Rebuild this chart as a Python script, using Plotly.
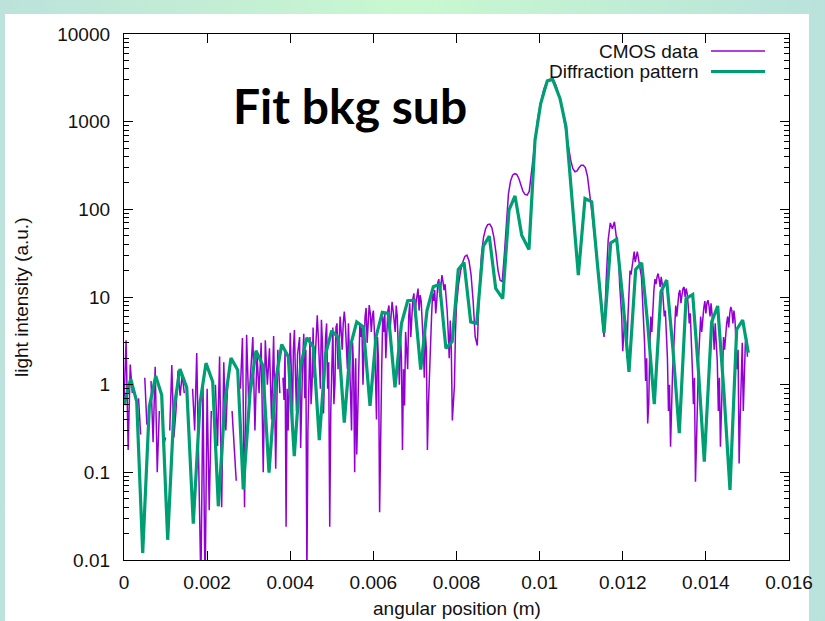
import base64
import plotly.graph_objects as go

# ---------------- data ----------------
# Diffraction pattern (fit), vertices
fit_x_mm = [0.000, 0.161, 0.306, 0.450, 0.609, 0.763, 0.907, 1.051, 1.203, 1.347,
            1.509, 1.667, 1.829, 1.973, 2.134, 2.269, 2.430, 2.574, 2.736, 2.870,
            3.032, 3.176, 3.337, 3.489, 3.650, 3.794, 3.953, 4.097, 4.247, 4.396,
            4.555, 4.699, 4.848, 4.997, 5.156, 5.300, 5.450, 5.599, 5.758, 5.919,
            6.063, 6.215, 6.359, 6.520, 6.677, 6.826, 6.985, 7.139, 7.290, 7.442,
            7.594, 7.745, 7.897, 8.043, 8.181, 8.342, 8.486, 8.645, 8.789, 8.943,
            9.112, 9.263, 9.408, 9.569, 9.744, 9.889, 10.026, 10.185, 10.314, 10.490,
            10.635, 10.786, 10.931, 11.092, 11.253, 11.397, 11.549, 11.710, 11.854, 12.006,
            12.150, 12.311, 12.456, 12.607, 12.759, 12.920, 13.057, 13.209, 13.360, 13.522,
            13.683, 13.823, 13.962, 14.140, 14.284, 14.436, 14.580, 14.741, 14.886, 15.021]
fit_y = [0.585, 1.16, 0.64, 0.012, 0.56, 1.26, 0.76, 0.017, 0.54, 1.51,
         0.93, 0.026, 0.62, 1.76, 1.08, 0.041, 0.65, 2.01, 1.47, 0.064,
         0.80, 2.44, 1.67, 0.099, 1.12, 2.88, 2.08, 0.153, 1.6, 3.43,
         2.7, 0.233, 2.2, 4.12, 3.46, 0.37, 2.8, 5.2, 4.57, 0.575,
         3.5, 6.67, 6.5, 0.93, 5.0, 9.06, 9.2, 1.49, 7.0, 13.1,
         14.0, 2.6, 3.1, 20.6, 24.8, 5.2, 5.0, 38, 49.5, 12.5,
         9.6, 98, 142, 50.8, 34.9, 615, 1610, 2917, 3027, 1840,
         873, 127, 17.8, 133, 122, 22, 3.9, 41.5, 45.7, 9,
         1.4, 20.6, 24.5, 4.5, 0.6, 11.5, 15.6, 2.5, 0.28, 9.6,
         10.7, 1.4, 0.132, 5.2, 7.9, 0.8, 0.063, 4.27, 5.45, 2.31]

# CMOS data, background subtracted (None = non-positive value, not drawn on log scale)
# samples every 0.05 mm ...
cmos_step_m = 0.00005
cmos_y = [
    0.6, 3.2, 0.18, 1.7, 0.8, None, None, 0.7, 0.27, None,
    1.2, 0.35, None, 1.1, 0.22, 1.6, 0.1, 0.5, None, 0.2,
    0.25, None, 0.3, 1.67, 0.25, 0.5, 1.45, 0.75, 1.3, 0.8,
    None, 0.4, None, 0.9, 0.3, 2.3, 0.15, 0.005, 1.0, 0.004,
    0.9, 0.037, 0.5, None, 1.0, 0.2, 2.1, 0.04, 1.8, 0.3,
    1.2, None, 0.5, 0.17, 0.08, None, 0.9, 3.4, 0.04, 3.7,
    0.6, 1.5, 3.5, 0.3, 2.2, 0.8, 3.0, 0.1, 3.2, 1.0,
    2.6, 0.4, 3.6, 0.11, 2.5, 0.8, None, 0.67, 0.024, 0.3,
    3.9, 0.3, 4.2, 0.5, 3.0, 0.19, 2.0, 0.7, 0.006, 1.5,
    0.6, 4.5, 2.0, 6.2, 1.8, 5.5, 0.47, 3.5, 0.9, 0.024,
    2.5, 0.6, 4.5, 1.5, 6.0, 2.5, 6.8, 3.0, 5.0, 0.8,
    3.0, 0.1, 0.16, 1.5, 3.5, 1.0, 6.0, 3.0, 8.1, 4.0,
    7.0, 1.1, 3.5, 0.035, 1.5, 4.0, 2.0, 7.0, 4.0, 8.8,
    5.5, 8.0, 2.5, 4.0, 0.18, 0.58, 2.5, 6.0, 3.5, 9.5,
    6.0, 11.5, 7.0, 9.0, 3.0, 4.0, 0.18, 1.5, 6.0, 9.0,
    6.5, 14.6, 10.0, 17.8, 12.0, 10.0, 4.0, 5.4, 0.39, 0.98,
    8.0, 14, 20, 25, 29, 30, 26, 18, 9, 3.5,
    2.8, 12, 30, 48, 60, 67, 68, 62, 48, 32,
    20, 15.5, 15, 30, 80, 150, 210, 245, 255, 250,
    225, 190, 160, 148, 145, 160, 250, 450, 700, 1050,
    1450, 1900, 2350, 2700, 2950, 3050, 3050, 2900, 2550, 2100,
    1750, 1350, 1000, 720, 500, 360, 290, 268, 275, 300,
    318, 318, 300, 240, 160, 100, 60, 35, 22, 13,
    6, 3.5, 15, 45, 70, 60, 72, 45, 30, 10,
    2.4, 6, 2.0, 12, 18, 30, 25, 33, 22, 17,
    6, 1.1, 0.36, 2.5, 4, 12, 14, 18.5, 13, 14,
    6, 4, 0.5, 0.196, 1.5, 5, 6, 11, 8.5, 12.5,
    10, 11, 5, 3.5, 0.6, 0.078, 1.0, 3.5, 4, 7.5,
    6.5, 9.2, 6, 6.5, 2.5, 3, 0.5, 0.196, 1.2, 2.5,
    5, 4.5, 7.7, 5, 5.5, 1.5, 0.126, 1.5, 0.5, 3.0,
    2.08,
]
# ... plus in-between samples (half a step later) where the data is densest
cmos_mid1_first = 76
cmos_mid1_y = [
    1.2, 2.5, 0.9, 1.2, 1.5, 2.5, 1.3, 2.2, 3.5, 0.8,
    3.8, 2.5, 0.3, 3.5, 1.0, 1.2, 4.0, 3.5, 0.9, 3.0,
    1.5, 5.0, 1.8, 0.5, 4.5, 1.0, 5.0, 3.5, 4.0, 5.0,
    5.0, 1.5, 2.5, 0.3, 1.5, 2.0, 0.5, 5.0, 4.5, 3.0,
    7.5, 5.0, 6.5, 6.0, 4.0, 0.4, 1.8, 0.6, 6.0, 6.5,
    4.0, 8.0, 6.0, 7.0, 4.0, 6.0, 1.0, 2.0, 1.5, 4.0,
    1.5, 8.5, 6.0, 11, 8.5, 12.5, 10.5, 6.0, 1.2, 2.5,
    0.6, 4.0, 11.0, 12.0, 9.0, 16.0, 13.5, 15.0, 14.0, 7.0,
    2.0, 2.5, 0.6, 4.0,
]
cmos_mid2_first = 238
cmos_mid2_y = [
    14, 6, 4, 5, 6, 20, 22, 33, 30, 28,
    20, 10, 3, 2, 0.6, 6, 8, 16, 17, 16,
    17, 9, 7, 2, 1.0, 0.8, 2.5, 8, 9, 12,
    10.5, 13, 12.5, 8, 6.5, 1.5, 1.2, 0.3, 2.0, 6,
    6, 9, 8.5, 8, 8.5, 4.5, 5, 1.8, 1.2, 0.5,
    3.5, 4, 6, 6.5, 7, 7, 3, 2.5, 0.4, 3,
    1.0, 3.5,
]

cmos_pts = [(i * cmos_step_m, v) for i, v in enumerate(cmos_y)]
cmos_pts += [((cmos_mid1_first + k + 0.5) * cmos_step_m, v) for k, v in enumerate(cmos_mid1_y)]
cmos_pts += [((cmos_mid2_first + k + 0.5) * cmos_step_m, v) for k, v in enumerate(cmos_mid2_y)]
cmos_pts.sort(key=lambda p: p[0])
cmos_x = [p[0] for p in cmos_pts]
cmos_v = [p[1] for p in cmos_pts]
fit_x = [v * 1e-3 for v in fit_x_mm]

x_tickvals = [0, 0.002, 0.004, 0.006, 0.008, 0.010, 0.012, 0.014, 0.016]
x_ticktext = ["0", "0.002", "0.004", "0.006", "0.008", "0.01", "0.012", "0.014", "0.016"]
y_tickvals = [0.01, 0.1, 1, 10, 100, 1000, 10000]
y_ticktext = ["0.01", "0.1", "1", "10", "100", "1000", "10000"]
y_minor = [k * 10.0 ** e for e in range(-2, 4) for k in range(2, 10)]

PURPLE = "#9400D3"
GREEN = "#009E73"
FONT = "Liberation Sans, Arial, Helvetica, sans-serif"

# slide background gradient (teal at the sides, mint in the middle)
grad_svg = (
    '<svg xmlns="http://www.w3.org/2000/svg" width="825" height="621">'
    '<defs><linearGradient id="g" x1="0" y1="0" x2="1" y2="0">'
    '<stop offset="0" stop-color="#bce2db"/>'
    '<stop offset="0.5" stop-color="#c9f8cf"/>'
    '<stop offset="1" stop-color="#b9e2dc"/>'
    '</linearGradient></defs>'
    '<rect width="825" height="621" fill="url(#g)"/></svg>'
)
grad_src = "data:image/svg+xml;base64," + base64.b64encode(grad_svg.encode()).decode()

# ---------------- figure ----------------
fig = go.Figure()
fig.add_trace(go.Scatter(x=cmos_x, y=cmos_v, mode="lines", name="CMOS data",
                         line=dict(color=PURPLE, width=1.5), connectgaps=False,
                         showlegend=False))
fig.add_trace(go.Scatter(x=fit_x, y=fit_y, mode="lines", name="Diffraction pattern",
                         line=dict(color=GREEN, width=3.2), showlegend=False))

L, R, T, B = 124, 36, 34, 61
W, H = 825, 621
pw, ph = W - L - R, H - T - B


def px(xp):
    return (xp - L) / pw


def py(yp):
    return (H - B - yp) / ph


axis_common = dict(showline=True, linecolor="black", linewidth=1.3, mirror="allticks",
                   ticks="inside", ticklen=9, tickwidth=1.2, tickcolor="black",
                   showgrid=False, zeroline=False,
                   tickfont=dict(family=FONT, size=19, color="#111111"))

fig.update_layout(
    width=W, height=H,
    margin=dict(l=L, r=R, t=T, b=B, pad=0),
    paper_bgcolor="#c3eed4",
    plot_bgcolor="white",
    xaxis=dict(range=[0, 0.016], tickvals=x_tickvals, ticktext=x_ticktext,
               ticklabelstandoff=5, **axis_common),
    yaxis=dict(type="log", range=[-2, 4], tickvals=y_tickvals, ticktext=y_ticktext,
               minor=dict(tickvals=y_minor, ticks="inside", ticklen=5, tickwidth=1,
                          tickcolor="black", showgrid=False),
               ticklabelstandoff=9, **axis_common),
    images=[dict(source=grad_src, xref="paper", yref="paper", x=px(0), y=py(0),
                 sizex=W / pw, sizey=H / ph, xanchor="left", yanchor="top",
                 sizing="stretch", layer="below")],
    shapes=[
        dict(type="rect", xref="paper", yref="paper", x0=px(5), x1=px(809), y0=py(622), y1=py(14),
             fillcolor="white", line=dict(width=0), layer="below"),
        dict(type="line", xref="paper", yref="paper", x0=px(711), x1=px(765), y0=py(51), y1=py(51),
             line=dict(color=PURPLE, width=1.6)),
        dict(type="line", xref="paper", yref="paper", x0=px(711), x1=px(765), y0=py(71.5), y1=py(71.5),
             line=dict(color=GREEN, width=3.2)),
    ],
    annotations=[
        dict(text="CMOS data", xref="paper", yref="paper", x=px(701), y=py(52),
             xanchor="right", yanchor="middle", showarrow=False,
             font=dict(family=FONT, size=19, color="#111111")),
        dict(text="Diffraction pattern", xref="paper", yref="paper", x=px(701), y=py(72),
             xanchor="right", yanchor="middle", showarrow=False,
             font=dict(family=FONT, size=19, color="#111111")),
        dict(text="<b>Fit bkg sub</b>", xref="paper", yref="paper", x=px(231), y=py(106),
             xanchor="left", yanchor="middle", showarrow=False,
             font=dict(family="Lato, sans-serif", size=48, color="black")),
        dict(text="angular position (m)", xref="paper", yref="paper", x=px(456.5), y=py(608),
             xanchor="center", yanchor="middle", showarrow=False,
             font=dict(family=FONT, size=19, color="#111111")),
        dict(text="light intensity (a.u.)", xref="paper", yref="paper", x=px(21), y=py(297),
             xanchor="center", yanchor="middle", showarrow=False, textangle=-90,
             font=dict(family=FONT, size=19, color="#111111")),
    ],
)

fig.write_html("out.html", config={"displayModeBar": False},
               post_script="document.body.style.margin='0';")
